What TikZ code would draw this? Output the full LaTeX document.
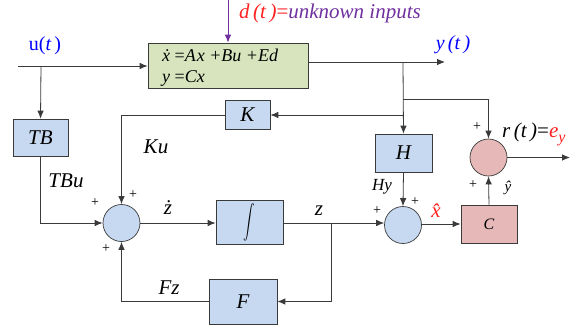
\documentclass[tikz,border=0pt]{standalone}
\usepackage{fontspec}
\setmainfont{Liberation Serif}
\usetikzlibrary{arrows.meta}
\definecolor{bluef}{HTML}{C6D9F1}
\definecolor{greenf}{HTML}{D7E4BD}
\definecolor{pinkf}{HTML}{E6B9B8}
\definecolor{edge}{HTML}{3A3A3A}
\definecolor{purp}{HTML}{7030A0}
\definecolor{dred}{HTML}{FF2020}
\newcommand{\eqs}{\upshape=\itshape}
\begin{document}
\begin{tikzpicture}[x=1pt,y=-1pt,
  blk/.style={draw=edge,line width=0.7pt,fill=bluef,inner sep=0pt,font=\fontsize{21}{23}\selectfont\itshape},
  sumc/.style={circle,draw=edge,line width=0.7pt,fill=bluef,inner sep=0pt,minimum size=37pt},
  wire/.style={draw=edge,line width=0.8pt},
  arr/.style={wire,-{Latex[length=8pt,width=6.5pt]}},
  lbl/.style={font=\fontsize{21}{23}\selectfont\itshape,inner sep=0pt},
  pl/.style={font=\fontsize{14}{15}\selectfont,inner sep=0pt}]
\useasboundingbox (0,0) rectangle (587,330);
% blocks
\node[blk,fill=greenf,minimum width=160pt,minimum height=45pt] (plant) at (228,65.5) {};
\node[anchor=west,inner sep=0pt,font=\fontsize{18}{20}\selectfont\itshape] (eq1) at (162,55) {\.{x} \eqs A\kern1pt x +Bu +Ed};
\node[anchor=west,inner sep=0pt,font=\fontsize{18}{20}\selectfont\itshape] (eq2) at (162,78) {y \eqs Cx};
\node[blk,minimum width=55pt,minimum height=37pt] (TB) at (40.5,137.5) {TB};
\node[blk,minimum width=45pt,minimum height=29pt] (K) at (247.5,115) {K};
\node[sumc] (s1) at (121.5,223) {};
\node[blk,minimum width=67pt,minimum height=44pt] (int) at (249.5,222) {\upshape\scalebox{1.15}[1.7]{$\displaystyle\int$}};
\node[blk,minimum width=68pt,minimum height=45pt] (F) at (243,301.5) {F};
\node[blk,minimum width=57pt,minimum height=38pt] (H) at (403.5,153) {H};
\node[sumc] (s2) at (403,225) {};
\node[blk,fill=pinkf,minimum width=56pt,minimum height=38pt,font=\fontsize{16}{18}\selectfont\itshape] (C) at (489,224) {C};
\node[sumc,fill=pinkf] (s3) at (488.5,157.5) {};
% coordinates
\coordinate (uin) at (18,66);
\coordinate (ub) at (41,66);
\coordinate (dtop) at (228,0);
\coordinate (yend) at (445,62);
\coordinate (yb) at (403,62);
\coordinate (yk) at (403,115);
\coordinate (yr) at (403,99);
\coordinate (zb) at (331,223);
\coordinate (rout) at (570,157.5);
% wires
\draw[arr] (uin) -- (plant.west |- uin);
\draw[arr] (ub) -- (TB.north);
\draw[arr,draw=purp] (dtop) -- (plant.north);
\draw[arr] (plant.east |- yend) -- (yend);
\draw[arr] (yb) -- (H.north);
\draw[arr] (yk) -- (K.east);
\draw[arr] (yr) -| (s3.north);
\draw[arr] (K.west) -| (s1.north);
\draw[arr] (TB.south) |- (s1.west);
\draw[arr] (s1.east) -- (int.west |- s1.east);
\draw[arr] (int.east |- zb) -- (s2.west |- zb);
\draw[arr] (zb) |- (F.east);
\draw[arr] (F.west) -| (s1.south);
\draw[arr] (H.south) -- (s2.north);
\draw[arr] (s2.east |- C.west) -- (C.west);
\draw[arr] (C.north) -- (s3.south);
\draw[arr] (s3.east) -- (rout);
% labels
\node[lbl,font=\fontsize{20}{22}\selectfont,text=blue] (ul) at (45,46) {u(\textit{t\,})};
\node[lbl,anchor=west,text=dred] (dl) at (239,13) {d\,(t\,)\eqs\textcolor{purp}{unknown inputs}};
\node[lbl,font=\fontsize{20}{22}\selectfont\itshape,text=blue] (yl) at (453,45) {y\,(t\,)};
\node[lbl] (kul) at (156,147) {Ku};
\node[lbl] (tbul) at (66,181) {TBu};
\node[lbl] (zdl) at (168,208) {\.{z}};
\node[lbl] (zl) at (319,211) {z};
\node[lbl] (fzl) at (169,288) {Fz};
\node[lbl,font=\fontsize{17}{19}\selectfont\itshape] (hyl) at (382,187) {Hy};
\node[lbl,text=dred] (xhl) at (436,211) {\^{x}};
\node[lbl,font=\fontsize{15}{17}\selectfont\itshape] (yhl) at (508,188) {\^{y}};
\node[lbl,anchor=west] (rl) at (502,134) {r\,(t\,)\eqs\textcolor{dred}{e\raisebox{-5pt}{\fontsize{16}{18}\selectfont y}}};
% plus signs
\node[pl] (p1) at (95,203) {+};
\node[pl] (p2) at (133,195) {+};
\node[pl] (p3) at (106,249) {+};
\node[pl] (p4) at (377,211) {+};
\node[pl] (p5) at (415,202) {+};
\node[pl] (p6) at (477,127) {+};
\node[pl] (p7) at (473,185) {+};
\end{tikzpicture}
\end{document}
